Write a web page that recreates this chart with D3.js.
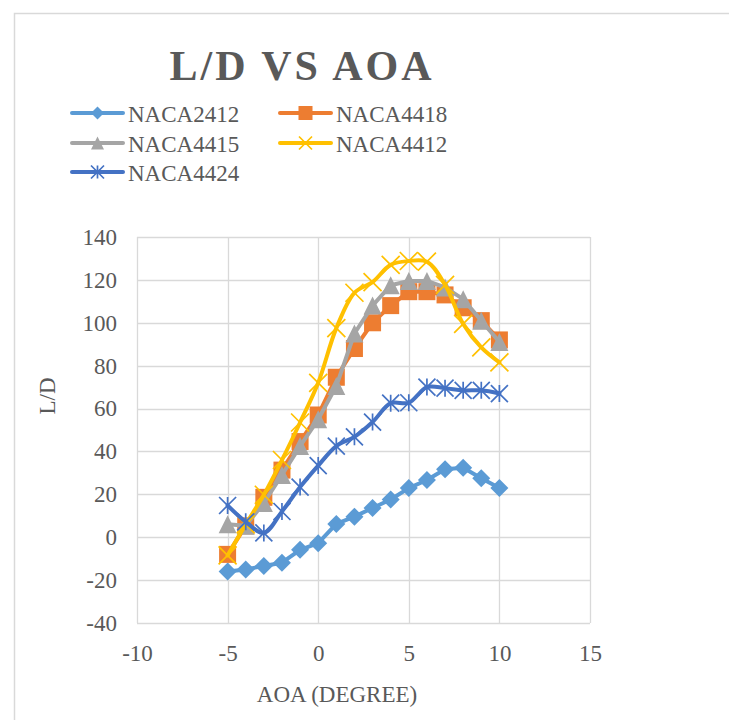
<!DOCTYPE html>
<html>
<head>
<meta charset="utf-8">
<script src="https://cdn.jsdelivr.net/npm/d3@7/dist/d3.min.js"></script>
<style>
  html, body { margin: 0; padding: 0; background: #fff; }
  svg { display: block; }
  text { font-family: "Liberation Serif", "Times New Roman", serif; fill: #595959; }
</style>
</head>
<body>
<svg id="chart" width="729" height="720"></svg>
<script>
// ---- data ----
const aoa = [-5, -4, -3, -2, -1, 0, 1, 2, 3, 4, 5, 6, 7, 8, 9, 10];
const naca2412 = [-16, -15, -13.4, -11.9, -5.9, -2.8, 6.2, 9.6, 13.6, 17.6, 22.9, 26.7, 31.7, 32.4, 27.5, 22.9];
const naca4418 = [-8, 5.3, 18.6, 31.3, 44.6, 57, 74.6, 88, 100, 108, 114.5, 114.5, 113, 107, 101, 92];
const naca4415 = [6.1, 5.3, 16, 29, 42.5, 55, 70.5, 95, 108, 117.5, 119.5, 119.5, 116.5, 111, 101, 91];
const naca4412 = [-8.5, 6, 19.8, 36, 53.5, 72, 97.5, 114, 119, 127, 128.8, 128.5, 117.7, 99.5, 88.5, 81.5];
const naca4424 = [14.8, 7.2, 2, 12, 23.4, 33.4, 42.5, 46.8, 53.7, 62.5, 62.7, 70, 69.5, 68.5, 68.5, 67];
const seriesNames = ["NACA2412", "NACA4418", "NACA4415", "NACA4412", "NACA4424"];
const xTicks = [-10, -5, 0, 5, 10, 15];
const yTicks = [-40, -20, 0, 20, 40, 60, 80, 100, 120, 140];
const titleText = "L/D VS AOA";
const xTitle = "AOA (DEGREE)";
const yTitle = "L/D";

// ---- styles ----
const styles = {
  NACA2412: { color: "#5B9BD5", marker: "diamond", smooth: false, size: 18 },
  NACA4418: { color: "#ED7D31", marker: "square", smooth: false, size: 17 },
  NACA4415: { color: "#A5A5A5", marker: "triangle", smooth: false, size: 18 },
  NACA4412: { color: "#FFC000", marker: "x", smooth: true, size: 18 },
  NACA4424: { color: "#4472C4", marker: "star", smooth: true, size: 17 }
};
const valuesByName = { NACA2412: naca2412, NACA4418: naca4418, NACA4415: naca4415, NACA4412: naca4412, NACA4424: naca4424 };

const svg = d3.select("#chart");
const fontFam = '"Liberation Serif", "Times New Roman", serif';

// chart outer border
svg.append("rect").attr("x", 14.5).attr("y", 13.5).attr("width", 800).attr("height", 800)
  .attr("fill", "#fff").attr("stroke", "#D9D9D9").attr("stroke-width", 1.5);

const plot = { left: 137, right: 590, top: 237, bottom: 623 };
const x = d3.scaleLinear().domain([-10, 15]).range([plot.left, plot.right]);
const y = d3.scaleLinear().domain([-40, 140]).range([plot.bottom, plot.top]);

// gridlines
const grid = svg.append("g");
grid.selectAll("line.h").data(yTicks).join("line")
  .attr("x1", plot.left).attr("x2", plot.right)
  .attr("y1", d => Math.round(y(d)) + 0.5).attr("y2", d => Math.round(y(d)) + 0.5)
  .attr("stroke", "#D9D9D9").attr("stroke-width", 1.3);
grid.selectAll("line.v").data(xTicks).join("line")
  .attr("y1", plot.top).attr("y2", plot.bottom)
  .attr("x1", d => Math.round(x(d)) + 0.5).attr("x2", d => Math.round(x(d)) + 0.5)
  .attr("stroke", "#D9D9D9").attr("stroke-width", 1.3);

// axes (labels only, via d3 axes)
const yAxis = svg.append("g").attr("transform", `translate(${plot.left - 12},0)`)
  .call(d3.axisLeft(y).tickValues(yTicks).tickSize(0).tickPadding(8).tickFormat(d => String(d)));
yAxis.select(".domain").remove();
yAxis.selectAll("text").attr("font-size", 23).attr("fill", "#595959").style("font-family", fontFam);

const xAxis = svg.append("g").attr("transform", `translate(0,${plot.bottom + 14})`)
  .call(d3.axisBottom(x).tickValues(xTicks).tickSize(0).tickPadding(8).tickFormat(d => String(d)));
xAxis.select(".domain").remove();
xAxis.selectAll("text").attr("font-size", 23).attr("fill", "#595959").style("font-family", fontFam);

// axis titles
svg.append("text").attr("x", 337).attr("y", 702).attr("text-anchor", "middle")
  .attr("font-size", 23).text(xTitle);
svg.append("text").attr("transform", "translate(55,396) rotate(-90)").attr("text-anchor", "middle")
  .attr("font-size", 23).text(yTitle);

// title
svg.append("text").attr("x", 302).attr("y", 80).attr("text-anchor", "middle")
  .attr("font-size", 42).attr("font-weight", "bold").attr("letter-spacing", 3)
  .style("fill", "#595959").text(titleText);

// marker drawing
function drawMarker(g, type, cx, cy, s, color) {
  const h = s / 2;
  if (type === "diamond") {
    g.append("path").attr("d", `M${cx},${cy - h}L${cx + h},${cy}L${cx},${cy + h}L${cx - h},${cy}Z`).attr("fill", color);
  } else if (type === "square") {
    g.append("rect").attr("x", cx - h).attr("y", cy - h).attr("width", s).attr("height", s).attr("fill", color);
  } else if (type === "triangle") {
    g.append("path").attr("d", `M${cx},${cy - h}L${cx + h},${cy + h}L${cx - h},${cy + h}Z`).attr("fill", color);
  } else if (type === "x") {
    g.append("path").attr("d", `M${cx - h},${cy - h}L${cx + h},${cy + h}M${cx + h},${cy - h}L${cx - h},${cy + h}`)
      .attr("stroke", color).attr("stroke-width", 1.7).attr("fill", "none");
  } else if (type === "star") {
    g.append("path").attr("d", `M${cx - h},${cy - h}L${cx + h},${cy + h}M${cx + h},${cy - h}L${cx - h},${cy + h}M${cx},${cy - h}L${cx},${cy + h}`)
      .attr("stroke", color).attr("stroke-width", 1.7).attr("fill", "none");
  }
}

// series
const linear = d3.line().x(d => x(d[0])).y(d => y(d[1])).curve(d3.curveLinear);
const smooth = d3.line().x(d => x(d[0])).y(d => y(d[1])).curve(d3.curveCatmullRom.alpha(0.5));

seriesNames.forEach(name => {
  const st = styles[name];
  const pts = aoa.map((a, i) => [a, valuesByName[name][i]]);
  const g = svg.append("g");
  g.append("path").attr("d", (st.smooth ? smooth : linear)(pts))
    .attr("fill", "none").attr("stroke", st.color).attr("stroke-width", 4)
    .attr("stroke-linejoin", "round").attr("stroke-linecap", "round");
  pts.forEach(p => drawMarker(g, st.marker, x(p[0]), y(p[1]), st.size, st.color));
});

// legend
const legendPos = [
  { col: 0, row: 0 }, { col: 1, row: 0 },
  { col: 0, row: 1 }, { col: 1, row: 1 },
  { col: 0, row: 2 }
];
const colX = [70, 278];
const rowY = [113, 143, 172];
seriesNames.forEach((name, i) => {
  const st = styles[name];
  const lx = colX[legendPos[i].col];
  const ly = rowY[legendPos[i].row];
  const g = svg.append("g");
  g.append("line").attr("x1", lx + 2).attr("x2", lx + 53).attr("y1", ly).attr("y2", ly)
    .attr("stroke", st.color).attr("stroke-width", 4).attr("stroke-linecap", "round");
  const ms = st.marker === "square" ? 14 : 13;
  drawMarker(g, st.marker, lx + 27.5, ly, ms, st.color);
  g.append("text").attr("x", lx + 58).attr("y", ly + 8.5).attr("font-size", 23).text(name);
});
</script>
</body>
</html>
